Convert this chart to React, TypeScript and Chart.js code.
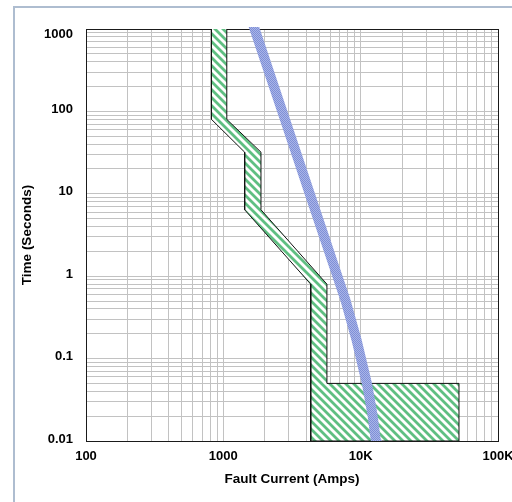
import React, { useEffect, useRef } from 'react';
import { Chart, registerables } from 'chart.js';

Chart.register(...registerables);

// ---- Data ----
const xDecades = [100, 1000, 10000, 100000];
const xTickLabels = ['100', '1000', '10K', '100K'];
const yDecades = [0.01, 0.1, 1, 10, 100, 1000];
const yTickLabels = ['0.01', '0.1', '1', '10', '100', '1000'];

// Breaker band polygon (min curve down, then max curve up)
const breakerCurrent = [820, 820, 1430, 1430, 4330, 4330, 52000, 52000, 5680, 5680, 1880, 1880, 1060, 1060];
const breakerTime = [1000, 80, 32, 6.4, 0.8, 0.01, 0.01, 0.05, 0.05, 0.8, 6.4, 32, 80, 1000];

// Fuse curve
const fuseCurrent = [1600, 1689, 2818, 4172, 6536, 7743, 9342, 11121, 12198, 12937, 13150];
const fuseTime = [1300, 1000, 78.6, 11.1, 1.19, 0.514, 0.168, 0.0492, 0.0207, 0.0097, 0.008];

const xTitle = 'Fault Current (Amps)';
const yTitle = 'Time (Seconds)';

function logTicks(decs: number[]) {
  const out: { value: number; major: boolean }[] = [];
  for (let i = 0; i < decs.length; i++) {
    out.push({ value: decs[i], major: true });
    if (i < decs.length - 1) {
      for (let m = 2; m <= 9; m++) out.push({ value: decs[i] * m, major: false });
    }
  }
  return out;
}

function labelFor(value: number, decs: number[], labels: string[]) {
  for (let i = 0; i < decs.length; i++) {
    if (Math.abs(value / decs[i] - 1) < 1e-6) return labels[i];
  }
  return '';
}

const FONT = 'Liberation Sans, Arial, sans-serif';

export default function App() {
  const ref = useRef<HTMLCanvasElement>(null);

  useEffect(() => {
    const canvas = ref.current!;
    const ctx = canvas.getContext('2d')!;
    const mk = (size: number, draw: (g: CanvasRenderingContext2D) => void) => {
      const c = document.createElement('canvas');
      c.width = size;
      c.height = size;
      const g = c.getContext('2d')!;
      draw(g);
      return ctx.createPattern(c, 'repeat')!;
    };
    const green = mk(8, (g) => {
      g.fillStyle = '#ffffff';
      g.fillRect(0, 0, 8, 8);
      for (let y = 0; y < 8; y++) {
        for (let x = 0; x < 8; x++) {
          const k = (((x - y) % 8) + 8) % 8;
          if (k === 1 || k === 2 || k === 3) {
            g.fillStyle = '#5fbf82';
            g.fillRect(x, y, 1, 1);
          } else if (k === 0 || k === 4) {
            g.fillStyle = '#b3e0c2';
            g.fillRect(x, y, 1, 1);
          }
        }
      }
    });
    const blue = mk(2, (g) => {
      g.fillStyle = '#a9b5e8';
      g.fillRect(0, 0, 2, 2);
      g.fillStyle = '#7f8fd6';
      g.fillRect(0, 0, 1, 1);
      g.fillRect(1, 1, 1, 1);
    });

    const framePlugin = {
      id: 'frame',
      beforeDatasetsDraw(chart: any) {
        const { left, top, right, bottom } = chart.chartArea;
        const c = chart.ctx;
        c.save();
        c.strokeStyle = '#1a1a1a';
        c.lineWidth = 1;
        c.strokeRect(left + 0.5, top + 0.5, right - left, bottom - top);
        c.restore();
      },
    };

    const yMax = yDecades[yDecades.length - 1];

    const chart = new Chart(canvas, {
      type: 'line',
      data: {
        datasets: [
          {
            label: 'Fuse',
            data: fuseCurrent.map((x, i) => ({ x, y: fuseTime[i] })),
            borderColor: blue as any,
            borderWidth: 10,
            pointRadius: 0,
            fill: false,
            tension: 0,
            borderJoinStyle: 'round',
            clip: { left: 5, top: 2, right: 5, bottom: 0 } as any,
          },
          {
            label: 'Breaker',
            data: breakerCurrent.map((x, i) => ({ x, y: breakerTime[i] })),
            borderColor: '#111111',
            borderWidth: 1,
            backgroundColor: green as any,
            pointRadius: 0,
            fill: 'shape' as any,
            tension: 0,
          },
        ],
      },
      options: {
        animation: false,
        responsive: false,
        devicePixelRatio: 1,
        layout: { padding: { left: 0, top: 29, right: 14, bottom: 0 } },
        plugins: { legend: { display: false }, tooltip: { enabled: false } },
        scales: {
          x: {
            type: 'logarithmic',
            min: 100,
            max: 100000,
            afterBuildTicks: (s: any) => {
              s.ticks = logTicks(xDecades);
            },
            afterFit: (s: any) => {
              s.height = 61;
              s.paddingLeft = 0;
              s.paddingRight = 0;
            },
            grid: { color: '#c2c2c2', drawTicks: false, lineWidth: 1 },
            border: { display: false },
            ticks: {
              autoSkip: false,
              maxRotation: 0,
              minRotation: 0,
              padding: 8,
              color: '#000',
              font: { family: FONT, weight: 'bold', size: 13 },
              callback: (v: any) => labelFor(Number(v), xDecades, xTickLabels),
            },
            title: {
              display: true,
              text: xTitle,
              color: '#000',
              font: { family: FONT, weight: 'bold', size: 13.5 },
              padding: { top: 0, bottom: 15 },
            },
          },
          y: {
            type: 'logarithmic',
            min: 0.01,
            max: 1000,
            afterBuildTicks: (s: any) => {
              s.ticks = logTicks(yDecades);
            },
            afterFit: (s: any) => {
              s.width = 86;
              s.paddingTop = 0;
              s.paddingBottom = 0;
            },
            grid: { color: '#c2c2c2', drawTicks: false, lineWidth: 1 },
            border: { display: false },
            ticks: {
              autoSkip: false,
              padding: 13,
              labelOffset: -2,
              color: '#000',
              font: { family: FONT, weight: 'bold', size: 13 },
              callback: (v: any) => {
                const l = labelFor(Number(v), yDecades, yTickLabels);
                // top label sits just inside the plot, as in the reference
                return Math.abs(Number(v) / yMax - 1) < 1e-6 ? ['', l] : l;
              },
            },
            title: {
              display: true,
              text: yTitle,
              color: '#000',
              font: { family: FONT, weight: 'bold', size: 13.5 },
              padding: { top: 19, bottom: 0 },
            },
          },
        },
      } as any,
      plugins: [framePlugin],
    });

    return () => chart.destroy();
  }, []);

  return (
    <div
      style={{
        position: 'absolute',
        left: 0,
        top: 0,
        width: 512,
        height: 502,
        overflow: 'hidden',
        background: '#ffffff',
      }}
    >
      <div
        style={{
          position: 'absolute',
          left: 13,
          top: 6,
          width: 620,
          height: 620,
          border: '2px solid #aebdd0',
          boxSizing: 'border-box',
        }}
      />
      <canvas
        ref={ref}
        width={512}
        height={502}
        style={{ position: 'absolute', left: 0, top: 0, width: 512, height: 502 }}
      />
    </div>
  );
}
